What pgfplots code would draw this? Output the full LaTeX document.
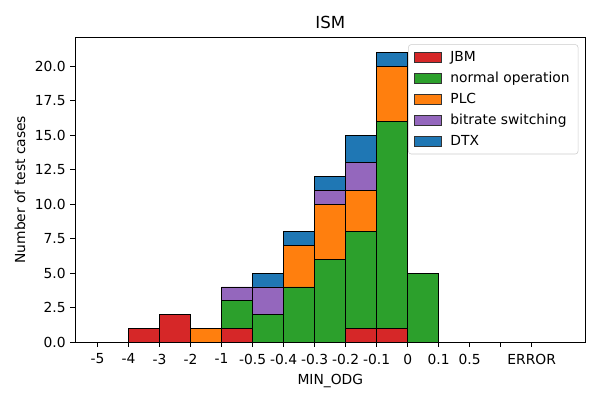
\documentclass[border=0pt]{standalone}
\usepackage{fontspec}
\setmainfont{DejaVu Sans}
\usepackage{pgfplots}
\usepackage{pgfplotstable}
\pgfplotsset{compat=1.18}
\definecolor{cjbm}{HTML}{D62728}
\definecolor{cnorm}{HTML}{2CA02C}
\definecolor{cplc}{HTML}{FF7F0E}
\definecolor{cbit}{HTML}{9467BD}
\definecolor{cdtx}{HTML}{1F77B4}
\pgfplotstableread{
x    jbm normal plc bitrate dtx
1.5  1   0      0   0       0
2.5  2   0      0   0       0
3.5  0   0      1   0       0
4.5  1   2      0   1       0
5.5  0   2      0   2       1
6.5  0   4      3   0       1
7.5  0   6      4   1       1
8.5  1   7      3   2       2
9.5  1   15     4   0       1
10.5 0   5      0   0       0
}\datatable
\begin{document}
\begin{tikzpicture}
\path[use as bounding box] (0,0) rectangle (6in,4in);
\begin{axis}[
  at={(0.753in,0.58in)}, anchor=south west,
  scale only axis, width=5.1in, height=3.047in,
  xmin=-0.72, xmax=15.73, ymin=0, ymax=22.1,
  enlargelimits=false,
  ybar stacked, bar width=1,
  xtick={0,1,2,3,4,5,6,7,8,9,10,11,12,13,14},
  xticklabels={-5,-4,-3,-2,-1,-0.5,-0.4,-0.3,-0.2,-0.1,0,0.1,0.5,,ERROR},
  ytick={0,2.5,5,7.5,10,12.5,15,17.5,20},
  yticklabel style={/pgf/number format/.cd,fixed,fixed zerofill,precision=1},
  /pgf/number format/assume math mode=true,
  tick align=outside, xtick pos=bottom, ytick pos=left,
  major tick length=3.5pt,
  tick style={black, line width=0.6pt},
  axis line style={line width=0.6pt},
  tick label style={font=\fontsize{10}{12}\selectfont},
  xticklabel style={yshift=-1.5pt},
  title={ISM},
  title style={font=\fontsize{12}{14}\selectfont, yshift=-3.5pt},
  xlabel={MIN\_ODG},
  ylabel={Number of test cases},
  label style={font=\fontsize{10}{12}\selectfont},
  legend style={at={(1,1)}, anchor=north east, xshift=-0.07in, yshift=-0.07in,
    draw=black!20, rounded corners=2pt, fill=white, fill opacity=0.8, text opacity=1,
    font=\fontsize{10}{12}\selectfont, row sep=2.1pt, inner xsep=4pt, inner ysep=3pt},
  legend cell align=left,
  legend image code/.code={\draw[#1,draw=black!80,line width=0.5pt,sharp corners,fill opacity=1] (0cm,-0.05in) rectangle (0.27in,0.05in);
    \path (0.33in,0);},
  every axis plot/.append style={draw=black, line width=0.5pt},
]
\addplot[fill=cjbm] table[x=x,y=jbm]{\datatable};
\addlegendentry{JBM}
\addplot[fill=cnorm] table[x=x,y=normal]{\datatable};
\addlegendentry{normal operation}
\addplot[fill=cplc] table[x=x,y=plc]{\datatable};
\addlegendentry{PLC}
\addplot[fill=cbit] table[x=x,y=bitrate]{\datatable};
\addlegendentry{bitrate switching}
\addplot[fill=cdtx] table[x=x,y=dtx]{\datatable};
\addlegendentry{DTX}
\end{axis}
\end{tikzpicture}
\end{document}
